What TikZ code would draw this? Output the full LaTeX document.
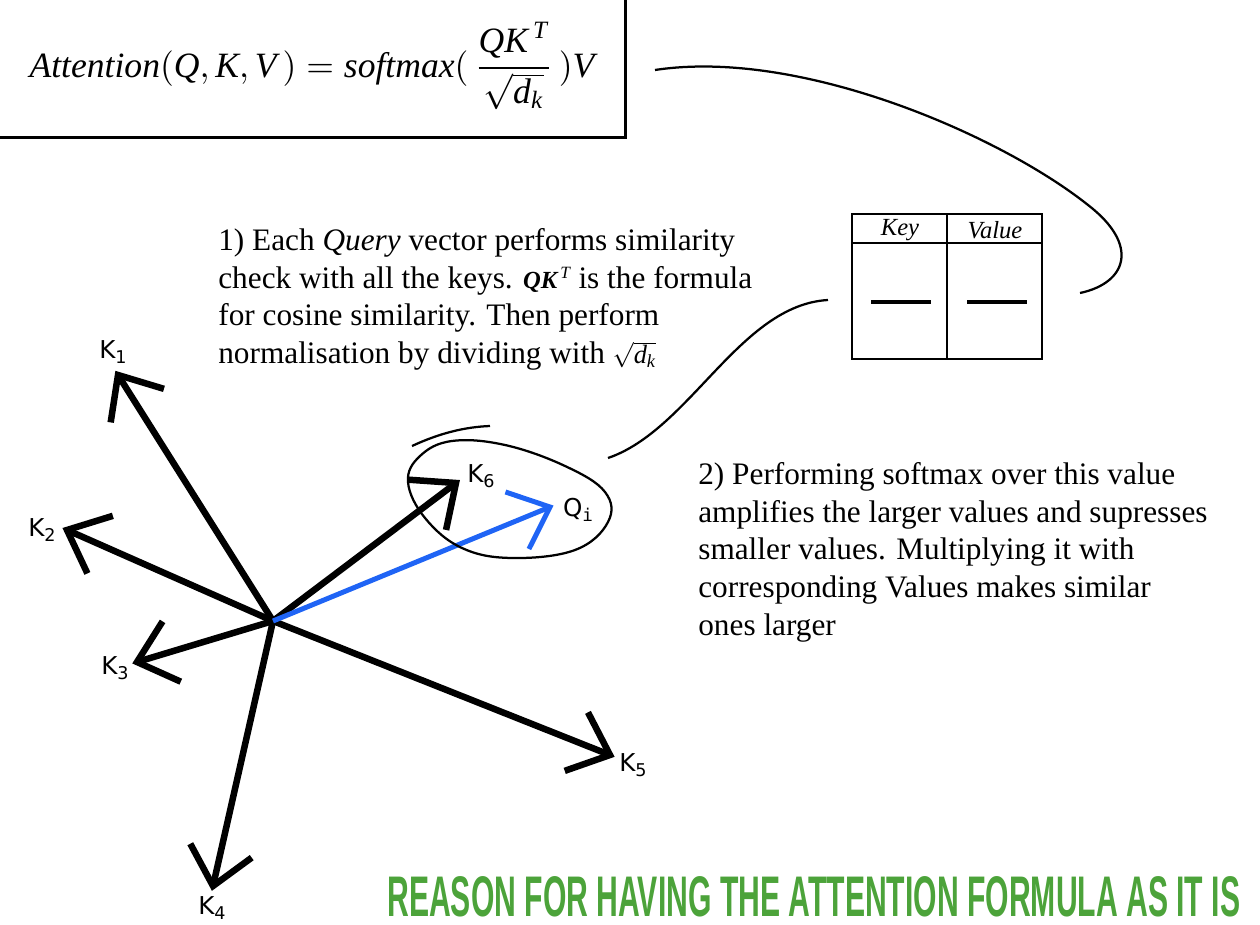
\documentclass[tikz,border=0pt]{standalone}
\usepackage{fontspec}
\usepackage{amsmath}
\setmainfont{Liberation Serif}
\newfontfamily\labfont{DejaVu Sans}
\newfontfamily\monofont{DejaVu Sans Mono}
\newfontfamily\titlefont{Liberation Sans}
\usetikzlibrary{calc}
\definecolor{qblue}{RGB}{31,100,245}
\definecolor{tgreen}{RGB}{76,163,58}
\begin{document}
\begin{tikzpicture}[x=0.02cm,y=-0.02cm,
  vec/.style={line width=0.13cm, line cap=butt, line join=miter},
  qvec/.style={vec, color=qblue, line width=0.1cm},
  lab/.style={font=\labfont\fontsize{14}{16}\selectfont, inner sep=0},
  thinline/.style={line width=0.045cm},
  tbl/.style={line width=0.055cm},
  txt/.style={font=\fontsize{17.8}{21.5}\selectfont, align=left, anchor=north west, inner sep=0},
]
\useasboundingbox (0,0) rectangle (1260,925);

% formula box
\draw[line width=0.06cm] (-10,138) -- (625,138) -- (625,-10);
\node[inner sep=0] (formula) at (312,66) {\resizebox{11.3cm}{!}{$\textit{Attention}(\textit{Q}, \textit{K}, \textit{V}\,)\;{=}\;\textit{softmax}(\,\dfrac{\textit{QK}^{\,\textit{T}}}{\sqrt{\textit{d}_{\textit{k}}}}\,)\textit{V}$}};

% text blocks
\node[txt] (t1) at (218,228) {1) Each \textit{Query} vector performs similarity\\
check with all the keys. {\fontsize{14}{14}\selectfont$\textit{\textbf{QK}}^{\,\textit{T}}$} is the formula\\
for cosine similarity. Then perform\\
normalisation by dividing with {\fontsize{15}{14}\selectfont$\sqrt{\textit{d}_{\textit{k}}}$}};

\node[txt] (t2) at (698,462) {2) Performing softmax over this value\\
amplifies the larger values and supresses\\
smaller values. Multiplying it with\\
corresponding Values makes similar\\
ones larger};

% table
\draw[tbl] (852,214) rectangle (1042,359);
\draw[tbl] (852,243) -- (1042,243);
\draw[tbl] (947,214) -- (947,359);
\draw[line width=0.065cm] (871,302) -- (931,302);
\draw[line width=0.065cm] (967,302) -- (1027,302);
\node[inner sep=0, font=\fontsize{14}{14}\selectfont\itshape] (key) at (900,230) {Key};
\node[inner sep=0, font=\fontsize{14}{14}\selectfont\itshape] (value) at (995,230) {Value};

% connectors
\coordinate (c1a) at (608,458);
\coordinate (c1b) at (828,300);
\draw[thinline] (c1a) .. controls (690,430) and (740,305) .. (c1b);
\coordinate (c2a) at (655,70);
\coordinate (c2m) at (1088,205);
\coordinate (c2b) at (1080,293);
\draw[thinline] (c2a) .. controls (800,48) and (1000,135) .. (c2m) .. controls (1140,245) and (1127,283) .. (c2b);

% vectors
\coordinate (O) at (273,621);
\coordinate (k1) at (118,375);
\coordinate (k2) at (67,530);
\coordinate (k3) at (137,662);
\coordinate (k4) at (213,886);
\coordinate (k5) at (610,755);
\coordinate (k6) at (456,483);
\coordinate (q) at (550,507);
\foreach \t in {k1,k2,k3,k4,k5,k6}{
  \draw[vec] (O) -- (\t);
  \draw[vec] ($(\t)!0.96cm!41:(O)$) -- (\t) -- ($(\t)!0.96cm!-41:(O)$);
}
\draw[qvec] (O) -- (q);
\draw[qvec] ($(q)!0.94cm!41:(O)$) -- (q) -- ($(q)!0.94cm!-41:(O)$);

% blob around K6 and Q
\draw[thinline] plot[smooth cycle, tension=0.65] coordinates {(408,482) (420,456) (452,441) (505,445) (565,466) (605,492) (608,522) (575,550) (512,558) (462,548) (425,518)};
\draw[thinline] (412,446) .. controls (440,433) and (465,427) .. (490,426);

% labels
\node[lab] (l1) at (113,352) {K\raisebox{-0.35ex}{\fontsize{10}{12}\selectfont 1}};
\node[lab] (l2) at (42,530) {K\raisebox{-0.35ex}{\fontsize{10}{12}\selectfont 2}};
\node[lab] (l3) at (115,668) {K\raisebox{-0.35ex}{\fontsize{10}{12}\selectfont 3}};
\node[lab] (l4) at (212,908) {K\raisebox{-0.35ex}{\fontsize{10}{12}\selectfont 4}};
\node[lab] (l5) at (633,765) {K\raisebox{-0.35ex}{\fontsize{10}{12}\selectfont 5}};
\node[lab] (l6) at (481,476) {K\raisebox{-0.35ex}{\fontsize{10}{12}\selectfont 6}};
\node[lab] (lq) at (578,510) {Q\raisebox{-0.35ex}{\monofont\fontsize{10}{12}\selectfont i}};

% title
\node[inner sep=0, anchor=south west, text=tgreen] (title) at (387,917) {\resizebox{17.06cm}{0.8cm}{\titlefont\bfseries REASON FOR HAVING THE ATTENTION FORMULA AS IT IS}};
\end{tikzpicture}
\end{document}
